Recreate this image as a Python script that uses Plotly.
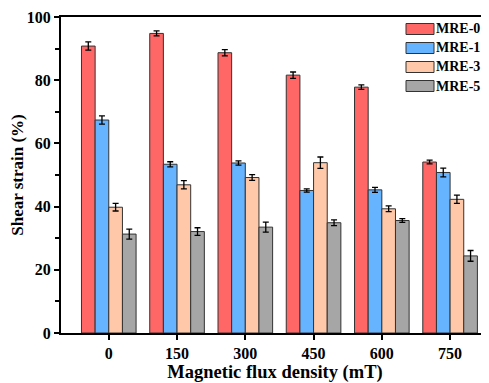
import plotly.graph_objects as go

categories = ["0", "150", "300", "450", "600", "750"]
series_names = ["MRE-0", "MRE-1", "MRE-3", "MRE-5"]
mre0 = [90.8, 94.8, 88.7, 81.6, 77.8, 54.1]
mre1 = [67.4, 53.4, 53.8, 45.1, 45.3, 50.8]
mre3 = [39.8, 46.9, 49.2, 53.9, 39.3, 42.3]
mre5 = [31.3, 32.1, 33.5, 34.9, 35.6, 24.4]
err0 = [1.3, 0.8, 1.0, 1.0, 0.7, 0.6]
err1 = [1.3, 0.8, 0.7, 0.5, 0.8, 1.4]
err3 = [1.2, 1.3, 0.9, 1.8, 0.9, 1.3]
err5 = [1.6, 1.2, 1.6, 0.9, 0.6, 1.7]
colors = ["#FF6666", "#66B3FF", "#FFC8A8", "#A6A6A6"]

values = [mre0, mre1, mre3, mre5]
errors = [err0, err1, err3, err5]

fig = go.Figure()
for name, v, e, c in zip(series_names, values, errors, colors):
    fig.add_trace(go.Bar(
        x=categories, y=v, name=name,
        marker=dict(color=c, line=dict(color="#333333", width=1)),
        error_y=dict(type="data", array=e, color="black", thickness=1.3, width=3),
        showlegend=False,
    ))

# page body has an 8px margin, so the figure is 8px smaller and margins compensate
W, H = 481, 375
ML, MR, MT, MB = 53, 0, 9, 50
pw, ph = W - ML - MR, H - MT - MB

# custom legend (wide swatches like the reference)
leg_x0, leg_x1 = 345 / pw, 373 / pw
leg_tx = 374 / pw
for i, (name, c) in enumerate(zip(series_names, colors)):
    cy = 1 - (12 + 19 * i) / ph
    hh = 5.5 / ph
    fig.add_shape(type="rect", xref="paper", yref="paper",
                  x0=leg_x0, x1=leg_x1, y0=cy - hh, y1=cy + hh,
                  fillcolor=c, line=dict(color="#333333", width=1))
    fig.add_annotation(xref="paper", yref="paper", x=leg_tx, y=cy,
                       xanchor="left", yanchor="middle", text=name, showarrow=False,
                       borderpad=0, font=dict(size=14, weight="bold"))

fig.update_layout(
    width=W, height=H,
    margin=dict(l=ML, r=MR, t=MT, b=MB),
    paper_bgcolor="white", plot_bgcolor="white",
    font=dict(family="Liberation Serif", size=16, color="black", weight="bold"),
    barmode="group", bargap=0.2, bargroupgap=0,
    showlegend=False,
)
fig.update_xaxes(
    type="category", range=[-0.7, 5.57],
    showline=True, linecolor="black", linewidth=2, mirror=True,
    ticks="outside", ticklen=5, tickwidth=1.5, tickcolor="black",
    showgrid=False,
    title=dict(text="Magnetic flux density (mT)", font=dict(size=18.5, weight="bold"), standoff=3),
)
fig.update_yaxes(
    range=[0, 100], dtick=20,
    showline=True, linecolor="black", linewidth=2,
    ticks="outside", ticklen=5, tickwidth=1.5, tickcolor="black",
    minor=dict(dtick=10, ticks="outside", ticklen=4, tickwidth=1.5, tickcolor="black"),
    showgrid=False, zeroline=False,
    title=dict(text="Shear strain (%)", font=dict(size=17, weight="bold"), standoff=0),
)

fig.write_html("out.html")
